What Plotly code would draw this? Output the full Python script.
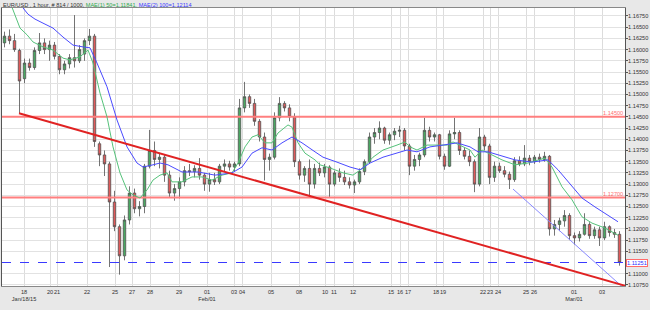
import plotly.graph_objects as go

# ---------------- data ----------------
bar_index = list(range(124))
opens = [1.1615,1.1630,1.1620,1.1598,1.1535,1.1570,1.1560,1.1598,1.1615,1.1600,
         1.1610,1.1585,1.1555,1.1568,1.1582,1.1575,1.1590,1.1620,1.1630,1.1390,
         1.1365,1.1345,1.1260,1.1205,1.1140,1.1220,1.1280,1.1245,1.1250,1.1340,
         1.1375,1.1355,1.1360,1.1320,1.1280,1.1290,1.1305,1.1330,1.1328,1.1335,
         1.1320,1.1300,1.1310,1.1305,1.1340,1.1345,1.1338,1.1345,1.1470,1.1495,
         1.1480,1.1440,1.1405,1.1355,1.1360,1.1448,1.1480,1.1470,1.1450,1.1350,
         1.1320,1.1335,1.1300,1.1335,1.1325,1.1338,1.1300,1.1325,1.1315,1.1305,
         1.1298,1.1305,1.1328,1.1350,1.1405,1.1415,1.1425,1.1398,1.1410,1.1418,
         1.1420,1.1385,1.1340,1.1355,1.1365,1.1420,1.1405,1.1410,1.1362,1.1340,
         1.1412,1.1415,1.1375,1.1362,1.1350,1.1300,1.1405,1.1385,1.1315,1.1340,
         1.1330,1.1322,1.1310,1.1352,1.1345,1.1358,1.1350,1.1360,1.1355,1.1362,
         1.1200,1.1210,1.1218,1.1230,1.1185,1.1180,1.1188,1.1210,1.1185,1.1198,
         1.1180,1.1205,1.1192,1.1188]
highs = [1.1640,1.1645,1.1635,1.1602,1.1580,1.1580,1.1605,1.1637,1.1625,1.1620,
         1.1617,1.1590,1.1575,1.1590,1.1677,1.1610,1.1625,1.1646,1.1635,1.1395,
         1.1375,1.1350,1.1285,1.1210,1.1230,1.1295,1.1290,1.1262,1.1345,1.1421,
         1.1395,1.1370,1.1365,1.1330,1.1300,1.1315,1.1340,1.1345,1.1342,1.1358,
         1.1325,1.1325,1.1325,1.1345,1.1355,1.1352,1.1350,1.1490,1.1528,1.1500,
         1.1490,1.1445,1.1415,1.1368,1.1460,1.1494,1.1485,1.1478,1.1458,1.1355,
         1.1340,1.1355,1.1345,1.1348,1.1345,1.1342,1.1330,1.1335,1.1330,1.1315,
         1.1310,1.1335,1.1355,1.1415,1.1425,1.1440,1.1428,1.1415,1.1425,1.1430,
         1.1425,1.1390,1.1365,1.1370,1.1448,1.1428,1.1415,1.1412,1.1368,1.1420,
         1.1448,1.1420,1.1382,1.1375,1.1355,1.1425,1.1410,1.1390,1.1350,1.1348,
         1.1340,1.1328,1.1360,1.1362,1.1387,1.1365,1.1365,1.1368,1.1372,1.1365,
         1.1220,1.1225,1.1242,1.1235,1.1192,1.1195,1.1235,1.1215,1.1205,1.1205,
         1.1216,1.1208,1.1200,1.1195]
lows = [1.1605,1.1612,1.1595,1.1458,1.1525,1.1553,1.1555,1.1590,1.1590,1.1575,
        1.1578,1.1545,1.1545,1.1558,1.1560,1.1570,1.1575,1.1610,1.1383,1.1340,
        1.1318,1.1115,1.1195,1.1098,1.1130,1.1210,1.1235,1.1228,1.1235,1.1335,
        1.1340,1.1335,1.1305,1.1270,1.1263,1.1268,1.1295,1.1318,1.1315,1.1310,
        1.1285,1.1283,1.1298,1.1300,1.1328,1.1330,1.1328,1.1340,1.1460,1.1470,
        1.1430,1.1395,1.1308,1.1330,1.1355,1.1440,1.1462,1.1440,1.1338,1.1310,
        1.1305,1.1271,1.1290,1.1318,1.1315,1.1271,1.1295,1.1305,1.1298,1.1290,
        1.1280,1.1300,1.1320,1.1345,1.1390,1.1400,1.1390,1.1388,1.1398,1.1405,
        1.1375,1.1320,1.1330,1.1340,1.1360,1.1395,1.1395,1.1355,1.1332,1.1338,
        1.1400,1.1365,1.1355,1.1340,1.1282,1.1295,1.1375,1.1300,1.1305,1.1325,
        1.1315,1.1289,1.1305,1.1340,1.1340,1.1342,1.1345,1.1348,1.1350,1.1185,
        1.1185,1.1195,1.1205,1.1175,1.1165,1.1172,1.1185,1.1178,1.1178,1.1162,
        1.1175,1.1183,1.1180,1.1118]
closes = [1.1630,1.1620,1.1600,1.1530,1.1570,1.1560,1.1598,1.1615,1.1600,1.1610,
          1.1585,1.1555,1.1568,1.1582,1.1575,1.1600,1.1620,1.1630,1.1395,1.1365,
          1.1345,1.1260,1.1205,1.1140,1.1220,1.1280,1.1245,1.1250,1.1340,1.1375,
          1.1355,1.1360,1.1320,1.1280,1.1290,1.1305,1.1330,1.1328,1.1335,1.1320,
          1.1300,1.1310,1.1305,1.1340,1.1345,1.1338,1.1345,1.1470,1.1495,1.1480,
          1.1440,1.1405,1.1355,1.1360,1.1448,1.1480,1.1470,1.1450,1.1350,1.1320,
          1.1335,1.1300,1.1335,1.1325,1.1338,1.1300,1.1325,1.1315,1.1305,1.1298,
          1.1305,1.1328,1.1350,1.1405,1.1415,1.1425,1.1398,1.1410,1.1418,1.1420,
          1.1385,1.1340,1.1355,1.1365,1.1420,1.1405,1.1410,1.1362,1.1340,1.1412,
          1.1415,1.1375,1.1362,1.1350,1.1300,1.1405,1.1385,1.1315,1.1340,1.1330,
          1.1322,1.1310,1.1352,1.1345,1.1358,1.1350,1.1360,1.1355,1.1362,1.1200,
          1.1210,1.1218,1.1230,1.1185,1.1180,1.1188,1.1210,1.1185,1.1198,1.1180,
          1.1205,1.1192,1.1188,1.1125]

# moving averages as drawn (position in bar units, value)
ma50_x = [1.1,2.5,3.1,4.5,5.7,7.7,9.7,11.7,13.1,15.1,16.7,17.7,19.1,20.5,21.7,23.1,
          24.5,25.7,27.1,28.5,29.7,31.1,32.5,33.5,35.5,37.5,39.5,41.5,43.5,45.5,
          46.7,48.1,49.5,50.7,52.1,53.5,54.7,56.7,57.5,58.7,60.1,62.1,63.1,65.1,
          67.7,69.7,71.7,73.7,75.7,78.5,80.1,81.1,82.5,84.5,86.5,88.5,89.7,91.7,
          93.1,94.1,95.5,97.5,99.5,102.1,104.7,108.1,109.5,111.5,113.5,115.5,
          117.5,120.1,122.7]
ma50_y = [1.1706,1.1668,1.1648,1.1633,1.1617,1.1606,1.1599,1.1581,1.1577,1.1584,
          1.1599,1.1570,1.1503,1.1450,1.1383,1.1325,1.1287,1.1276,1.1269,1.1287,
          1.1309,1.1320,1.1325,1.1305,1.1305,1.1316,1.1316,1.1309,1.1320,1.1325,
          1.1347,1.1383,1.1405,1.1410,1.1392,1.1392,1.1414,1.1432,1.1427,1.1392,
          1.1369,1.1354,1.1343,1.1336,1.1325,1.1320,1.1336,1.1360,1.1376,1.1387,
          1.1394,1.1383,1.1376,1.1387,1.1387,1.1387,1.1394,1.1383,1.1376,1.1360,
          1.1376,1.1365,1.1354,1.1343,1.1347,1.1358,1.1338,1.1294,1.1265,1.1227,
          1.1213,1.1202,1.1186]
ma100_x = [3.1,3.7,4.7,6.1,7.7,9.7,11.7,13.7,15.7,17.1,18.5,20.5,22.5,24.5,26.5,
           27.7,29.7,31.1,32.7,35.5,38.7,42.1,45.5,47.5,49.5,51.5,53.5,55.5,57.5,
           59.5,62.1,63.7,66.5,69.1,71.1,73.1,75.7,78.5,80.5,82.5,85.1,87.7,90.5,
           93.1,94.7,96.7,98.7,102.1,105.5,108.7,110.7,113.5,115.5,118.1,120.7,122.7]
ma100_y = [1.1706,1.1693,1.1679,1.1668,1.1659,1.1648,1.1628,1.1610,1.1606,1.1604,
           1.1570,1.1517,1.1443,1.1383,1.1347,1.1338,1.1343,1.1347,1.1343,1.1327,
           1.1327,1.1320,1.1325,1.1338,1.1369,1.1381,1.1376,1.1392,1.1405,1.1392,
           1.1372,1.1360,1.1349,1.1338,1.1332,1.1347,1.1360,1.1369,1.1376,1.1372,
           1.1383,1.1387,1.1392,1.1383,1.1372,1.1372,1.1365,1.1354,1.1349,1.1354,
           1.1332,1.1294,1.1269,1.1249,1.1231,1.1216]

# drawn objects
trend_x = [2.9, 124.1]
trend_y = [1.1458, 1.10734]
channel_x = [101.7, 123.5]
channel_y = [1.1289, 1.10716]
level_values = [1.14500, 1.12700]
level_labels = ["1.14500", "1.12700"]
last_price = 1.11251

# y-axis ticks (the 1.11250 label is covered by the last-price box)
y_ticks = [1.10750, 1.11000, 1.11500, 1.11750, 1.12000, 1.12250, 1.12500,
           1.12750, 1.13000, 1.13250, 1.13500, 1.13750, 1.14000, 1.14250,
           1.14500, 1.14750, 1.15000, 1.15250, 1.15500, 1.15750, 1.16000,
           1.16250, 1.16500, 1.16750]

# x-axis ticks (positions in bar units)
tick_pos = [3.9,9.1,10.5,16.5,22.1,25.5,29.1,34.9,40.5,45.9,47.5,53.3,58.9,
            64.1,65.9,69.7,77.3,79.1,80.7,86.3,87.7,95.7,97.1,98.7,104.3,105.9,
            113.9,119.5]
tick_text = ["18<br>Jan/18/15","20","21","22","25","27","28","29","01<br>Feb/01",
             "03","04","05","08","10","11","12","15","16","17","18","19","22",
             "23","24","25","26","01<br>Mar/01","03"]

X_RANGE = [-0.5, 124.1]
Y_RANGE = [1.10727, 1.16928]
FS = 5.6

fig = go.Figure()

for v in level_values:
    fig.add_trace(go.Scatter(x=X_RANGE, y=[v, v], mode="lines",
                             line=dict(color="#ff7f7f", width=2), hoverinfo="skip"))

fig.add_trace(go.Scatter(x=X_RANGE, y=[last_price, last_price], mode="lines",
                         line=dict(color="#3a3aff", width=1, dash="dash"), hoverinfo="skip"))

fig.add_trace(go.Candlestick(
    x=bar_index, open=opens, high=highs, low=lows, close=closes,
    increasing=dict(line=dict(color="#505050", width=0.8), fillcolor="#4aa862"),
    decreasing=dict(line=dict(color="#505050", width=0.8), fillcolor="#e05a5a"),
    whiskerwidth=0,
))

fig.add_trace(go.Scatter(x=ma50_x, y=ma50_y, mode="lines",
                         line=dict(color="#55c27a", width=1), hoverinfo="skip"))
fig.add_trace(go.Scatter(x=ma100_x, y=ma100_y, mode="lines",
                         line=dict(color="#4a4aff", width=1), hoverinfo="skip"))
fig.add_trace(go.Scatter(x=channel_x, y=channel_y, mode="lines",
                         line=dict(color="#8888ff", width=1), hoverinfo="skip"))
fig.add_trace(go.Scatter(x=trend_x, y=trend_y, mode="lines",
                         line=dict(color="#e02222", width=2), hoverinfo="skip"))

annotations = [
    dict(xref="paper", yref="paper", x=0, y=1, xanchor="left", yanchor="bottom",
         showarrow=False, borderpad=0, yshift=-1,
         text="EUR/USD , 1 hour, # 814 / 1000, "
              "<span style='color:#2fa84f'>MAE(1) 50=1.11841,</span> "
              "<span style='color:#3a3aff'>MAE(2) 100=1.12114</span>",
         font=dict(size=FS, color="#333333")),
    dict(xref="paper", yref="y", x=1, y=last_price, xanchor="left", yanchor="middle",
         showarrow=False, text="1.11251", bgcolor="white", bordercolor="#ff6a6a",
         borderwidth=1, borderpad=0, xshift=1, font=dict(size=FS, color="#3030ff")),
]
for v, t in zip(level_values, level_labels):
    annotations.append(dict(xref="paper", yref="y", x=1, y=v, xanchor="right",
                            yanchor="bottom", showarrow=False, text=t, borderpad=0,
                            xshift=-1, font=dict(size=FS, color="#ff7070")))

fig.update_layout(
    width=650, height=310,
    margin=dict(l=2, r=25, t=8, b=24),
    paper_bgcolor="#e8e8e8", plot_bgcolor="white",
    showlegend=False,
    font=dict(family="Arial", size=FS, color="#333333"),
    annotations=annotations,
    xaxis=dict(range=X_RANGE, tickmode="array", tickvals=tick_pos, ticktext=tick_text,
               tickangle=0, automargin=False,
               showgrid=True, gridcolor="#dcdcdc", gridwidth=1, zeroline=False,
               showline=True, linecolor="#888888", mirror=True,
               ticks="", rangeslider=dict(visible=False), tickfont=dict(size=FS)),
    yaxis=dict(range=Y_RANGE, side="right", tickmode="array", tickvals=y_ticks,
               tickformat=".5f", showgrid=True, gridcolor="#e2e2e2", zeroline=False,
               showline=True, linecolor="#555555", mirror=True, automargin=False,
               ticks="outside", ticklen=2, tickcolor="#555555",
               ticklabelstandoff=-1, tickfont=dict(size=FS)),
)

fig.write_html("out.html")
